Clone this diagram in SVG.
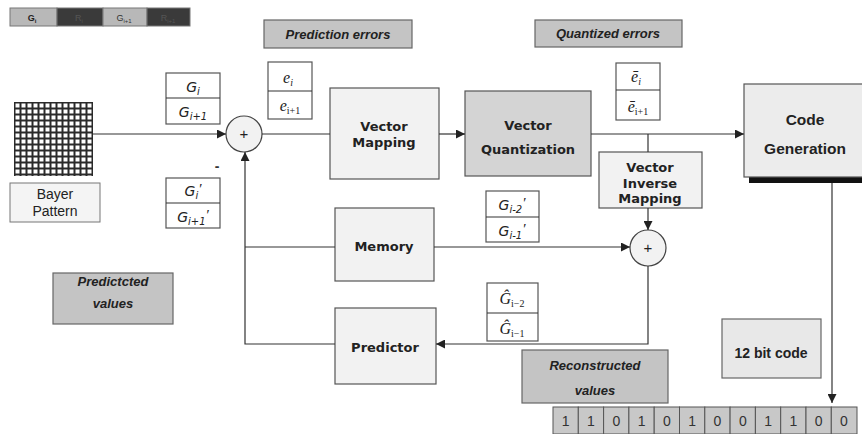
<svg xmlns="http://www.w3.org/2000/svg" width="862" height="434" viewBox="0 0 862 434">
<style>
.box{fill:#f2f2f2;stroke:#555;stroke-width:1.2}
.frac{fill:#fff;stroke:#555;stroke-width:1.2}
.lbl{fill:#c4c4c4;stroke:#666;stroke-width:1.2}
.ln{fill:none;stroke:#333;stroke-width:1.2}
.bt{font-family:"DejaVu Sans",Verdana,sans-serif;font-weight:bold;font-size:13px;fill:#222;text-anchor:middle}
.ar{font-family:"Liberation Sans",Arial,sans-serif;fill:#222;text-anchor:middle}
.lt{font-family:"Liberation Sans",Arial,sans-serif;font-weight:bold;font-style:italic;font-size:13px;fill:#222;text-anchor:middle}
.mg{font-family:"DejaVu Sans",Verdana,sans-serif;font-style:oblique;font-size:14px;fill:#222;text-anchor:middle}
.mt{font-family:"Liberation Serif","Times New Roman",serif;font-style:italic;font-size:16px;fill:#222;text-anchor:middle}
.pr{font-family:"Liberation Serif","Times New Roman",serif;font-style:italic;font-size:15px}
.bit{fill:#c8c8c8;stroke:#555;stroke-width:1}
.bd{font-family:"Liberation Sans",Arial,sans-serif;font-size:14px;fill:#333;text-anchor:middle}
</style>
<defs>
<marker id="ah" viewBox="0 0 10 10" refX="10" refY="5" markerWidth="9" markerHeight="9" markerUnits="userSpaceOnUse" orient="auto">
<path d="M0,0 L10,5 L0,10 z" fill="#222"/>
</marker>
<pattern id="bayer" x="14" y="102" width="6" height="6" patternUnits="userSpaceOnUse">
<rect width="6" height="6" fill="#2a2a2a"/>
<rect x="1.5" y="1.5" width="4" height="4" fill="#fff"/>
</pattern>
</defs>
<rect width="862" height="434" fill="#fff"/>

<g id="legend">
<rect x="10" y="8" width="47" height="18" fill="#b8b8b8" stroke="#777" stroke-width="1"/>
<rect x="57" y="8" width="46" height="18" fill="#3a3a3a" stroke="#777" stroke-width="1"/>
<rect x="103" y="8" width="44" height="18" fill="#b8b8b8" stroke="#777" stroke-width="1"/>
<rect x="147" y="8" width="43" height="18" fill="#3a3a3a" stroke="#777" stroke-width="1"/>
<text x="32" y="21" font-family="Liberation Sans,Arial,sans-serif" font-weight="bold" font-size="9" fill="#222" text-anchor="middle">G<tspan font-size="6" dy="2">i</tspan></text>
<text x="79" y="21" font-family="Liberation Sans,Arial,sans-serif" font-size="9" fill="#555" text-anchor="middle">R<tspan font-size="6" dy="2">i</tspan></text>
<text x="124" y="21" font-family="Liberation Sans,Arial,sans-serif" font-size="9" fill="#333" text-anchor="middle">G<tspan font-size="6" dy="2">i+1</tspan></text>
<text x="168" y="21" font-family="Liberation Sans,Arial,sans-serif" font-size="9" fill="#555" text-anchor="middle">R<tspan font-size="6" dy="2">i+1</tspan></text>
</g>

<g id="bayer-pattern">
<rect x="14" y="102" width="79" height="74" fill="url(#bayer)"/>
<rect x="10" y="183" width="90" height="39" fill="#f4f4f4" stroke="#777" stroke-width="1"/>
<text class="ar" x="55" y="199" font-size="14">Bayer</text>
<text class="ar" x="55" y="216" font-size="14">Pattern</text>
</g>

<g id="label-prediction-errors">
<rect class="lbl" x="264" y="20" width="148" height="28"/>
<text class="lt" x="338" y="39">Prediction errors</text>
</g>
<g id="label-quantized-errors">
<rect class="lbl" x="535" y="20" width="147" height="27"/>
<text class="lt" x="608" y="38">Quantized errors</text>
</g>
<g id="label-predicted-values">
<rect class="lbl" x="53" y="273" width="120" height="51"/>
<text class="lt" x="113" y="286">Predictcted</text>
<text class="lt" x="113" y="308">values</text>
</g>
<g id="label-reconstructed-values">
<rect class="lbl" x="522" y="350" width="146" height="53"/>
<text class="lt" x="595" y="370">Reconstructed</text>
<text class="lt" x="595" y="395">values</text>
</g>

<g id="g-input">
<rect class="frac" x="166" y="73" width="54" height="51"/>
<line class="ln" x1="166" y1="98" x2="220" y2="98"/>
<text class="mg" x="193" y="92">G<tspan font-size="10" dy="3">i</tspan></text>
<text class="mg" x="193" y="117">G<tspan font-size="10" dy="3">i+1</tspan></text>
</g>
<g id="g-pred">
<rect class="frac" x="166" y="178" width="54" height="50"/>
<line class="ln" x1="166" y1="203" x2="220" y2="203"/>
<text class="mg" x="193" y="196">G<tspan font-size="10" dy="3">i</tspan><tspan class="pr" dy="-5">′</tspan></text>
<text class="mg" x="193" y="222">G<tspan font-size="10" dy="3">i+1</tspan><tspan class="pr" dy="-5">′</tspan></text>
</g>
<text id="minus" x="217" y="171" font-family="Liberation Sans,Arial,sans-serif" font-weight="bold" font-size="14" fill="#333" text-anchor="middle">-</text>

<g id="e-box">
<rect class="frac" x="268" y="62" width="44" height="57"/>
<line class="ln" x1="268" y1="91" x2="312" y2="91"/>
<text class="mt" x="288" y="83">e<tspan font-size="10" dy="3">i</tspan></text>
<text class="mt" x="290" y="111">e<tspan font-size="10" dy="3" font-style="normal">i+1</tspan></text>
</g>
<g id="ebar-box">
<rect class="frac" x="616" y="63" width="44" height="57"/>
<line class="ln" x1="616" y1="90" x2="660" y2="90"/>
<text class="mt" x="636" y="82">ē<tspan font-size="10" dy="3">i</tspan></text>
<text class="mt" x="638" y="112">ē<tspan font-size="10" dy="3" font-style="normal">i+1</tspan></text>
</g>
<g id="g-mem">
<rect class="frac" x="486" y="191" width="53" height="51"/>
<line class="ln" x1="486" y1="217" x2="539" y2="217"/>
<text class="mg" x="512" y="210">G<tspan font-size="10" dy="3">i-2</tspan><tspan class="pr" dy="-5">′</tspan></text>
<text class="mg" x="512" y="236">G<tspan font-size="10" dy="3">i-1</tspan><tspan class="pr" dy="-5">′</tspan></text>
</g>
<g id="g-hat">
<rect class="frac" x="487" y="283" width="51" height="58"/>
<line class="ln" x1="487" y1="313" x2="538" y2="313"/>
<text class="mt" x="512" y="304">Ĝ<tspan font-size="10" dy="3" font-style="normal">i−2</tspan></text>
<text class="mt" x="512" y="334">Ĝ<tspan font-size="10" dy="3" font-style="normal">i−1</tspan></text>
</g>

<g id="sum1">
<circle cx="244" cy="134" r="18" fill="#f2f2f2" stroke="#444" stroke-width="1.2"/>
<text class="ar" x="244" y="139" font-size="15">+</text>
</g>
<g id="vector-mapping">
<rect class="box" x="330" y="88" width="109" height="91"/>
<text class="bt" x="384" y="131">Vector</text>
<text class="bt" x="384" y="147">Mapping</text>
</g>
<g id="vector-quantization">
<rect x="465" y="91" width="126" height="85" fill="#d4d4d4" stroke="#555" stroke-width="1.2"/>
<text class="bt" x="528" y="130">Vector</text>
<text class="bt" x="528" y="154">Quantization</text>
</g>
<g id="code-generation">
<rect x="749" y="89" width="113" height="94" fill="#111"/>
<rect x="744" y="84" width="120" height="93" fill="#ececec" stroke="#555" stroke-width="1.2"/>
<text class="ar" x="805" y="125" font-size="15.5" font-weight="bold">Code</text>
<text class="ar" x="805" y="154" font-size="15.5" font-weight="bold">Generation</text>
</g>
<g id="vector-inverse-mapping">
<rect class="box" x="599" y="152" width="103" height="56"/>
<text class="bt" x="650" y="172">Vector</text>
<text class="bt" x="650" y="188">Inverse</text>
<text class="bt" x="650" y="203">Mapping</text>
</g>
<g id="sum2">
<circle cx="648" cy="248" r="18" fill="#f2f2f2" stroke="#444" stroke-width="1.2"/>
<text class="ar" x="648" y="253" font-size="15">+</text>
</g>
<g id="memory">
<rect class="box" x="335" y="208" width="99" height="73"/>
<text class="bt" x="384" y="251">Memory</text>
</g>
<g id="predictor">
<rect class="box" x="335" y="308" width="101" height="76"/>
<text class="bt" x="385" y="352">Predictor</text>
</g>
<g id="code-12bit">
<rect x="722" y="319" width="99" height="59" fill="#e8e8e8" stroke="#666" stroke-width="1.2"/>
<text class="ar" x="771" y="358" font-size="14" font-weight="bold">12 bit code</text>
</g>

<g id="bits">
<rect class="bit" x="553" y="407" width="25.3" height="27"/>
<rect class="bit" x="578.3" y="407" width="25.3" height="27"/>
<rect class="bit" x="603.6" y="407" width="25.3" height="27"/>
<rect class="bit" x="628.9" y="407" width="25.3" height="27"/>
<rect class="bit" x="654.2" y="407" width="25.3" height="27"/>
<rect class="bit" x="679.5" y="407" width="25.3" height="27"/>
<rect class="bit" x="704.8" y="407" width="25.3" height="27"/>
<rect class="bit" x="730.1" y="407" width="25.3" height="27"/>
<rect class="bit" x="755.4" y="407" width="25.3" height="27"/>
<rect class="bit" x="780.7" y="407" width="25.3" height="27"/>
<rect class="bit" x="806" y="407" width="25.3" height="27"/>
<rect class="bit" x="831.3" y="407" width="25.7" height="27"/>
<text class="bd" x="565.6" y="426">1</text>
<text class="bd" x="591" y="426">1</text>
<text class="bd" x="616.3" y="426">0</text>
<text class="bd" x="641.6" y="426">1</text>
<text class="bd" x="666.9" y="426">0</text>
<text class="bd" x="692.2" y="426">1</text>
<text class="bd" x="717.5" y="426">0</text>
<text class="bd" x="742.8" y="426">0</text>
<text class="bd" x="768.1" y="426">1</text>
<text class="bd" x="793.4" y="426">1</text>
<text class="bd" x="818.7" y="426">0</text>
<text class="bd" x="844" y="426">0</text>
</g>

<g id="connectors">
<line class="ln" x1="93" y1="134" x2="226" y2="134" marker-end="url(#ah)"/>
<line class="ln" x1="262" y1="134" x2="330" y2="134"/>
<line class="ln" x1="439" y1="134" x2="465" y2="134" marker-end="url(#ah)"/>
<line class="ln" x1="591" y1="134" x2="744" y2="134" marker-end="url(#ah)"/>
<line class="ln" x1="648" y1="134" x2="648" y2="152"/>
<line class="ln" x1="648" y1="208" x2="648" y2="230" marker-end="url(#ah)"/>
<line class="ln" x1="434" y1="247" x2="630" y2="247" marker-end="url(#ah)"/>
<polyline class="ln" points="648,266 648,344 436,344" marker-end="url(#ah)"/>
<polyline class="ln" points="335,344 245,344 245,152" marker-end="url(#ah)"/>
<line class="ln" x1="335" y1="247" x2="245" y2="247"/>
<line class="ln" x1="832" y1="183" x2="832" y2="403" marker-end="url(#ah)"/>
</g>
</svg>
